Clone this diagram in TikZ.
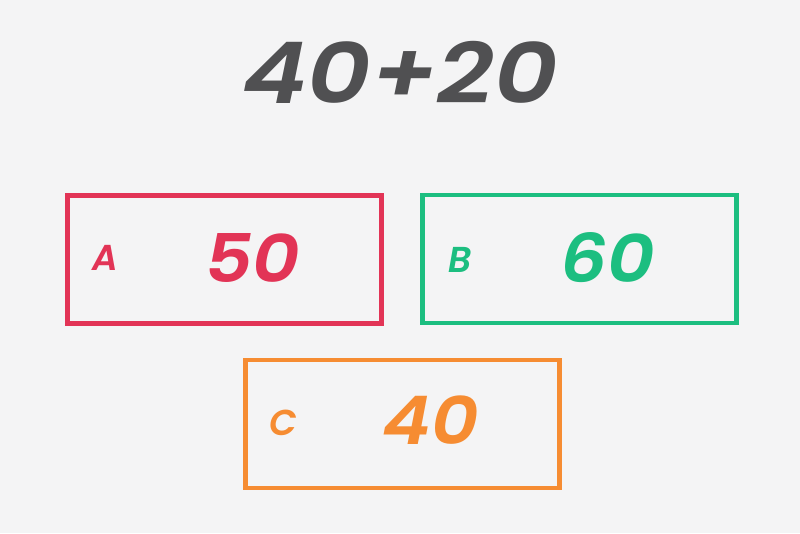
\documentclass[tikz,border=0pt]{standalone}
\usepackage{fontspec}
\setmainfont{Poppins}[UprightFont=* SemiBold, ItalicFont=* SemiBold Italic, BoldFont=* SemiBold, BoldItalicFont=* SemiBold Italic]
\definecolor{bgc}{RGB}{244,244,245}
\definecolor{titlec}{RGB}{80,80,82}
\definecolor{redc}{RGB}{226,52,86}
\definecolor{greenc}{RGB}{28,190,128}
\definecolor{orangec}{RGB}{246,140,50}
\tikzset{
  boxc/.style={draw=#1, line width=4.5pt, minimum width=314pt, minimum height=128pt, inner sep=0pt},
  letterc/.style={text=#1, font=\fontsize{36}{36}\selectfont\itshape, inner sep=0pt},
  numc/.style={text=#1, font=\fontsize{67}{67}\selectfont\itshape, inner sep=0pt, xscale=1.1},
}
\begin{document}
\begin{tikzpicture}[x=1pt,y=-1pt]
\fill[bgc] (0,0) rectangle (800,533);
\useasboundingbox (0,0) rectangle (800,533);
\node[text=titlec, font=\fontsize{85}{85}\selectfont\itshape, inner sep=0pt, xscale=1.16] (title) at (400,72) {40+20};
\node[boxc=redc] (boxA) at (224.5,259.5) {};
\node[boxc=greenc] (boxB) at (579.5,259) {};
\node[boxc=orangec] (boxC) at (402.5,424) {};
\node[letterc=redc] (lA) at (105,258) {A};
\node[numc=redc] (nA) at (253,258) {50};
\node[letterc=greenc] (lB) at (460,260) {B};
\node[numc=greenc] (nB) at (608,258) {60};
\node[letterc=orangec] (lC) at (283,423) {C};
\node[numc=orangec] (nC) at (431,420) {40};
\end{tikzpicture}
\end{document}
